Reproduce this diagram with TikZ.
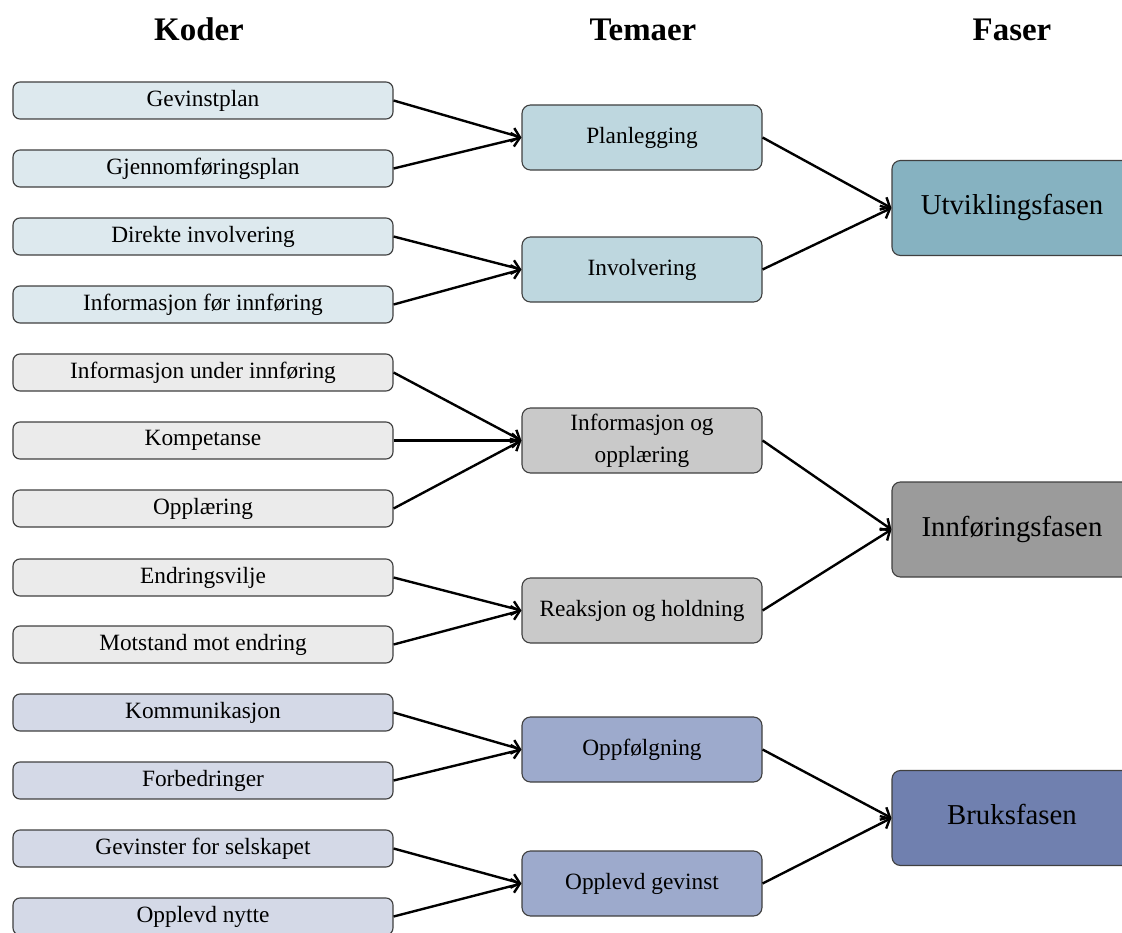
\documentclass[tikz,border=0pt]{standalone}
\usepackage{fontspec}
\setmainfont{Liberation Serif}
\usetikzlibrary{arrows.meta}

\definecolor{kodeblue}{RGB}{221,233,238}
\definecolor{kodegray}{RGB}{235,235,235}
\definecolor{kodeviolet}{RGB}{212,217,231}
\definecolor{temablue}{RGB}{190,215,223}
\definecolor{temagray}{RGB}{201,201,201}
\definecolor{temaviolet}{RGB}{157,170,204}
\definecolor{faseblue}{RGB}{134,178,193}
\definecolor{fasegray}{RGB}{155,155,155}
\definecolor{faseviolet}{RGB}{112,128,175}

\begin{document}
\begin{tikzpicture}[
    kode/.style={draw=black!75, line width=0.8pt, rounded corners=5pt, minimum width=9.5cm, minimum height=0.925cm, inner sep=1pt, font=\fontsize{16.6}{19.5}\selectfont},
    tema/.style={draw=black!75, line width=0.8pt, rounded corners=6pt, minimum width=6cm, minimum height=1.625cm, align=center, font=\fontsize{16.6}{19.5}\selectfont},
    fase/.style={draw=black!75, line width=0.8pt, rounded corners=6pt, minimum width=6cm, minimum height=2.375cm, text height=14pt, text depth=4.5pt, font=\fontsize{20.5}{24}\selectfont},
    head/.style={anchor=base, font=\fontsize{23.4}{28}\selectfont\bfseries},
    arr/.style={-{Straight Barb[length=5.5pt,width=10pt]}, line width=1.7pt}
]
\useasboundingbox (0,0) rectangle (28.05,-23.325);

% headings
\node[head] (hK) at (4.975,-1.025) {Koder};
\node[head] (hT) at (16.075,-1.025) {Temaer};
\node[head] (hF) at (25.3,-1.025) {Faser};

% Koder
\node[kode, fill=kodeblue] (K1) at (5.075,-2.5125) {Gevinstplan};
\node[kode, fill=kodeblue] (K2) at (5.075,-4.2125) {Gjennomføringsplan};
\node[kode, fill=kodeblue] (K3) at (5.075,-5.9125) {Direkte involvering};
\node[kode, fill=kodeblue] (K4) at (5.075,-7.6125) {Informasjon før innføring};
\node[kode, fill=kodegray] (K5) at (5.075,-9.3125) {Informasjon under innføring};
\node[kode, fill=kodegray] (K6) at (5.075,-11.0125) {Kompetanse};
\node[kode, fill=kodegray] (K7) at (5.075,-12.7125) {Opplæring};
\node[kode, fill=kodegray] (K8) at (5.075,-14.4375) {Endringsvilje};
\node[kode, fill=kodegray] (K9) at (5.075,-16.1125) {Motstand mot endring};
\node[kode, fill=kodeviolet] (K10) at (5.075,-17.8125) {Kommunikasjon};
\node[kode, fill=kodeviolet] (K11) at (5.075,-19.5125) {Forbedringer};
\node[kode, fill=kodeviolet] (K12) at (5.075,-21.2125) {Gevinster for selskapet};
\node[kode, fill=kodeviolet] (K13) at (5.075,-22.9125) {Opplevd nytte};

% Temaer
\node[tema, fill=temablue] (T1) at (16.05,-3.4375) {Planlegging};
\node[tema, fill=temablue] (T2) at (16.05,-6.7375) {Involvering};
\node[tema, fill=temagray] (T3) at (16.05,-11.0125) {Informasjon og\\[3.3pt]opplæring};
\node[tema, fill=temagray] (T4) at (16.05,-15.2625) {Reaksjon og holdning};
\node[tema, fill=temaviolet] (T5) at (16.05,-18.7375) {Oppfølgning};
\node[tema, fill=temaviolet] (T6) at (16.05,-22.0875) {Opplevd gevinst};

% Faser
\node[fase, fill=faseblue] (F1) at (25.3,-5.2) {Utviklingsfasen};
\node[fase, fill=fasegray] (F2) at (25.3,-13.2375) {Innføringsfasen};
\node[fase, fill=faseviolet] (F3) at (25.3,-20.45) {Bruksfasen};

% Koder -> Temaer
\draw[arr] (K1.east) -- (T1.west);
\draw[arr] (K2.east) -- (T1.west);
\draw[arr] (K3.east) -- (T2.west);
\draw[arr] (K4.east) -- (T2.west);
\draw[arr] (K5.east) -- (T3.west);
\draw[arr] (K6.east) -- (T3.west);
\draw[arr] (K7.east) -- (T3.west);
\draw[arr] (K8.east) -- (T4.west);
\draw[arr] (K9.east) -- (T4.west);
\draw[arr] (K10.east) -- (T5.west);
\draw[arr] (K11.east) -- (T5.west);
\draw[arr] (K12.east) -- (T6.west);
\draw[arr] (K13.east) -- (T6.west);

% Temaer -> Faser
\draw[arr] (T1.east) -- (F1.west);
\draw[arr] (T2.east) -- (F1.west);
\draw[arr] (T3.east) -- (F2.west);
\draw[arr] (T4.east) -- (F2.west);
\draw[arr] (T5.east) -- (F3.west);
\draw[arr] (T6.east) -- (F3.west);

\end{tikzpicture}
\end{document}
